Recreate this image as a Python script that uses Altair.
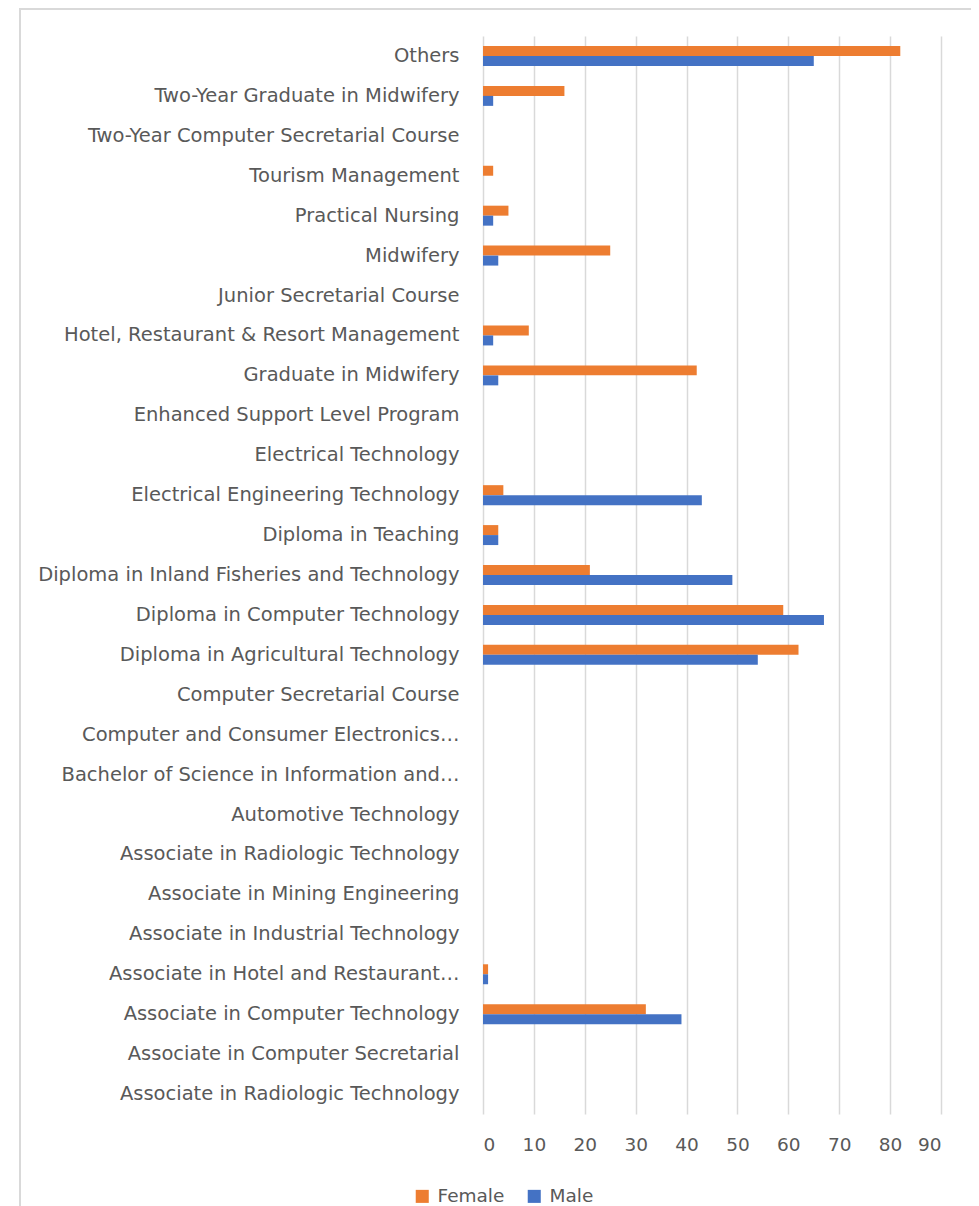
import json
import altair as alt
import pandas as pd

categories = [
    "Others",
    "Two-Year Graduate in Midwifery",
    "Two-Year Computer Secretarial Course",
    "Tourism Management",
    "Practical Nursing",
    "Midwifery",
    "Junior Secretarial Course",
    "Hotel, Restaurant & Resort Management",
    "Graduate in Midwifery",
    "Enhanced Support Level Program",
    "Electrical Technology",
    "Electrical Engineering Technology",
    "Diploma in Teaching",
    "Diploma in Inland Fisheries and Technology",
    "Diploma in Computer Technology",
    "Diploma in Agricultural Technology",
    "Computer Secretarial Course",
    "Computer and Consumer Electronics…",
    "Bachelor of Science in Information and…",
    "Automotive Technology",
    "Associate in Radiologic Technology",
    "Associate in Mining Engineering",
    "Associate in Industrial Technology",
    "Associate in Hotel and Restaurant…",
    "Associate in Computer Technology",
    "Associate in Computer Secretarial",
    "Associate in Radiologic Technology",
]
female = [82, 16, None, 2, 5, 25, None, 9, 42, None, None, 4, 3, 21, 59, 62,
          None, None, None, None, None, None, None, 1, 32, None, None]
male = [65, 2, None, None, 2, 3, None, 2, 3, None, None, 43, 3, 49, 67, 54,
        None, None, None, None, None, None, None, 1, 39, None, None]
series = ["Female", "Male"]
colors = ["#ED7D31", "#4472C4"]
x_ticks = [0, 10, 20, 30, 40, 50, 60, 70, 80, 90]

rows = []
for i, c in enumerate(categories):
    for s, vals in zip(series, [female, male]):
        v = vals[i]
        rows.append({"idx": i, "label": c, "series": s, "value": v})
df = pd.DataFrame(rows)

label_expr = json.dumps(categories) + "[datum.value]"
FONT = "DejaVu Sans"
GRAY = "#595959"

bars = alt.Chart(df).mark_bar().encode(
    y=alt.Y("idx:O", title=None,
            scale=alt.Scale(domain=list(range(len(categories))),
                            paddingInner=0.5, paddingOuter=0.25),
            axis=alt.Axis(labelExpr=label_expr, domain=False, ticks=False,
                          labelPadding=24, labelLimit=0, labelFontSize=19.5,
                          labelColor=GRAY, labelFont=FONT, grid=False)),
    yOffset=alt.YOffset("series:N", sort=series),
    x=alt.X("value:Q", title=None,
            scale=alt.Scale(domain=[0, 90], nice=False),
            axis=alt.Axis(values=x_ticks, domain=False, ticks=False,
                          labelFontSize=18.5, labelColor=GRAY, labelFont=FONT,
                          labelPadding=21, grid=True, gridColor="#d9d9d9",
                          gridWidth=1.5)),
    color=alt.Color("series:N", sort=series,
                    scale=alt.Scale(domain=series, range=colors),
                    legend=alt.Legend(title=None, orient="none",
                                      direction="horizontal",
                                      legendX=-70, legendY=1151,
                                      symbolType="square", symbolSize=170,
                                      symbolStrokeWidth=0,
                                      labelFontSize=18.5, labelColor=GRAY,
                                      labelFont=FONT, columnPadding=20,
                                      labelOffset=6)),
)

border = alt.Chart(pd.DataFrame({"a": [0]})).mark_rect(
    fill=None, stroke="#d9d9d9", strokeWidth=2
).encode(
    x=alt.value(-463), x2=alt.value(800),
    y=alt.value(-27), y2=alt.value(1400),
)

chart = alt.layer(border, bars).properties(
    width=458, height=1078,
    autosize=alt.AutoSizeParams(type="none"),
    padding={"left": 475, "top": 28, "right": 30, "bottom": 95},
).configure_view(stroke=None)

chart.save("out.html", embed_options={"renderer": "svg", "actions": False})
